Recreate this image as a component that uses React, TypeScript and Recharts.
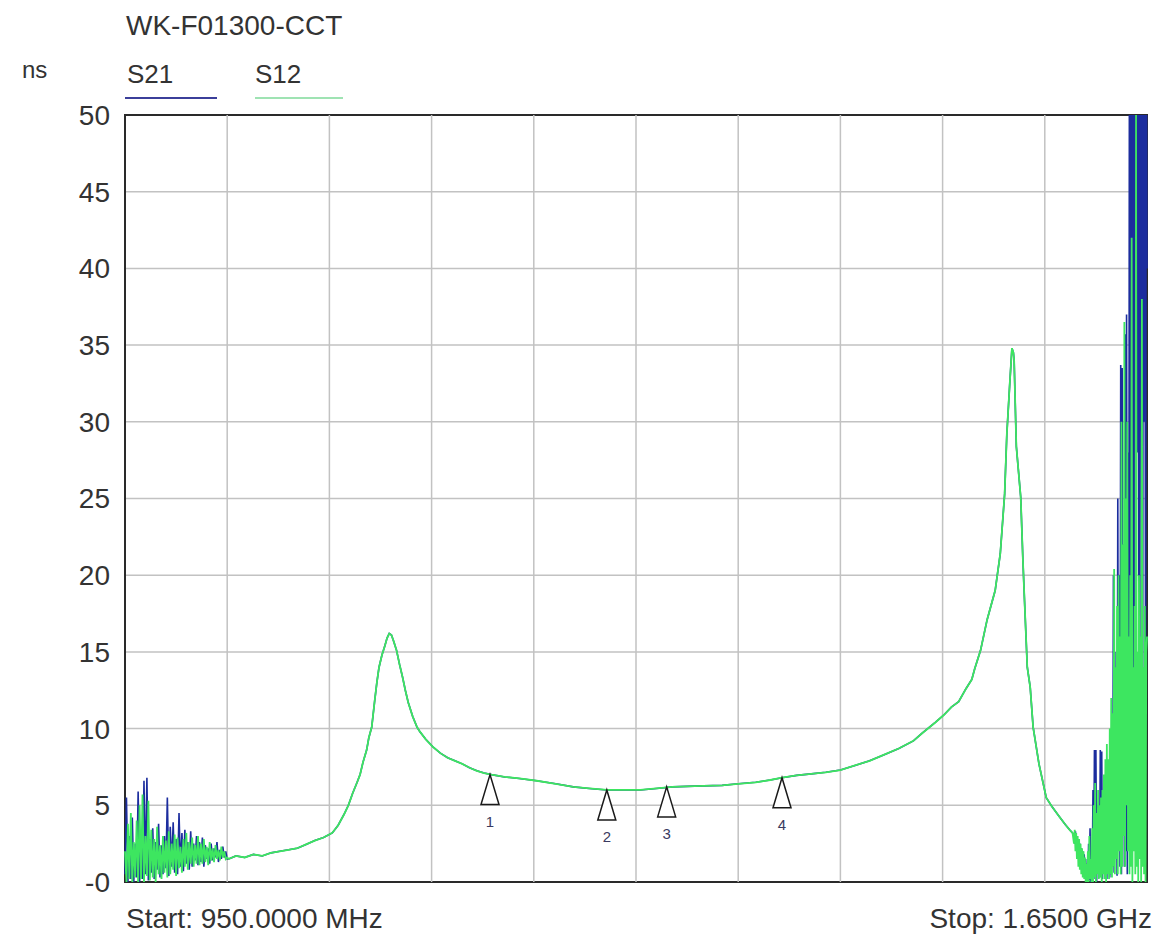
import {
  LineChart,
  Line,
  XAxis,
  YAxis,
  CartesianGrid,
  ReferenceArea,
  ReferenceDot,
  ReferenceLine,
} from "recharts";

// sweep: 950 MHz .. 1650 MHz, group delay in ns
const X_TICKS = [950, 1020, 1090, 1160, 1230, 1300, 1370, 1440, 1510, 1580, 1650];
const Y_TICKS = [0, 5, 10, 15, 20, 25, 30, 35, 40, 45, 50];

// noisy start of the sweep, 1 MHz per point from 950 MHz
const LEFT_START = 950;
const LEFT_STEP = 1;
const s21Left = [
  0.5, 5.5, 0.0, 3.0, 0.2, 4.2, 0.0, 2.5, 0.3, 5.9,
  0.0, 3.0, 0.2, 6.6, 0.5, 6.8, 0.1, 2.8, 0.6, 3.5,
  0.2, 2.6, 0.8, 3.8, 0.3, 2.4, 0.5, 3.0, 0.9, 5.5,
  0.4, 3.6, 1.0, 3.9, 0.6, 2.8, 0.5, 4.5, 1.0, 3.2,
  0.7, 3.4, 1.2, 2.6, 0.8, 3.3, 1.0, 2.5, 1.4, 3.0,
  1.1, 2.6, 1.3, 2.9, 1.0, 2.4, 1.5, 2.2, 1.2, 2.5,
  1.4, 2.2, 1.6, 2.6, 1.3, 2.1, 1.5, 2.3, 1.6, 2.0,
  1.5,
];
const s12Left = [
  2.0, 0.0, 3.8, 0.2, 4.5, 0.0, 2.6, 0.3, 4.0, 0.0,
  5.0, 0.2, 5.7, 0.0, 3.0, 0.4, 5.3, 0.1, 3.4, 0.3,
  2.8, 0.0, 3.6, 0.5, 2.4, 0.2, 3.0, 0.6, 2.7, 0.3,
  3.3, 0.5, 2.5, 0.8, 3.1, 0.4, 2.9, 0.9, 2.3, 0.6,
  2.8, 1.0, 3.2, 0.8, 2.6, 1.2, 2.9, 1.0, 2.4, 1.2,
  3.0, 1.1, 2.5, 1.2, 2.8, 1.3, 2.3, 1.1, 2.6, 1.4,
  2.2, 1.3, 2.4, 1.5, 2.1, 1.4, 2.3, 1.6, 2.0, 1.5,
  1.6,
];

// clean passband trace (both traces lie on top of each other here)
const midFreq = [
  1021, 1026, 1032, 1038, 1044, 1050, 1056, 1062, 1068, 1074, 1080, 1086, 1092,
  1096, 1100, 1103, 1106, 1109, 1111, 1113, 1115.5, 1117, 1119, 1121, 1122.5,
  1124, 1126, 1128, 1129.5, 1131, 1132.5, 1134, 1136, 1138, 1140, 1142, 1144,
  1147, 1150, 1152, 1156, 1161, 1166, 1171, 1176, 1181, 1186, 1191, 1196, 1201,
  1210, 1220, 1232, 1245, 1257, 1268, 1280, 1292, 1303, 1314, 1325, 1340, 1359,
  1370, 1382, 1392, 1400, 1410, 1420, 1430, 1440, 1450, 1460, 1470, 1480, 1490,
  1496, 1505, 1511, 1516, 1521, 1526, 1530, 1532, 1536, 1540.5, 1546, 1549.5,
  1552.5, 1554, 1556, 1557.5, 1558.5, 1559, 1560.5, 1563.5, 1565, 1566, 1568,
  1570, 1572, 1576, 1581, 1585, 1590, 1594, 1597, 1599,
];
const midNs = [
  1.5, 1.7, 1.6, 1.8, 1.7, 1.9, 2.0, 2.1, 2.2, 2.45, 2.7, 2.9, 3.2,
  3.7, 4.4, 5.0, 5.8, 6.5, 7.0, 7.8, 8.6, 9.4, 10.1, 11.8, 13.0,
  14.0, 14.8, 15.4, 15.9, 16.2, 16.1, 15.7, 15.1, 14.2, 13.4, 12.5, 11.7,
  10.8, 10.1, 9.8, 9.3, 8.8, 8.4, 8.1, 7.9, 7.7, 7.45, 7.25, 7.1, 7.0,
  6.85, 6.75, 6.6, 6.4, 6.2, 6.1, 6.0, 6.0, 6.0, 6.1, 6.2, 6.25, 6.3,
  6.4, 6.5, 6.65, 6.8, 6.95, 7.05, 7.15, 7.3, 7.6, 7.9, 8.3, 8.7, 9.2,
  9.7, 10.4, 10.9, 11.4, 11.75, 12.6, 13.2, 13.9, 15.1, 17.1, 19.0, 21.4,
  25.3, 29.2, 32.5, 34.8, 34.5, 34.0, 28.4, 25.1, 21.0, 18.6, 14.0,
  12.7, 10.1, 7.7, 5.5, 4.9, 4.25, 3.75, 3.4, 3.2,
];

// noisy stop band, 0.5 MHz per point from 1600 MHz (values above 50 run off the top)
const RIGHT_START = 1600;
const RIGHT_STEP = 0.5;
const s21Right = [
  3.0, 2.5, 3.3, 2.2, 3.0, 1.8, 2.8, 1.5, 2.5, 1.2, 2.2, 0.9, 2.0, 0.6, 1.8, 0.4, 1.5, 0.2, 1.2, 0.0, 2.5, 0.1, 3.5, 0.0, 1.5,
  0.3, 6.0, 0.5, 8.6, 0.2, 8.6, 0.0, 5.0, 0.8, 4.0, 0.3, 8.6, 0.6, 8.5, 0.2, 6.0, 1.0, 3.5, 0.4, 7.2, 0.2, 5.1, 0.8, 3.0, 0.3,
  9.5, 0.5, 6.0, 1.0, 20.0, 0.6, 15.0, 2.0, 12.0, 0.4, 25.0, 3.0, 20.0, 1.0, 33.7, 0.5, 33.5, 4.0, 22.0, 1.0, 35.7, 2.0, 37.0, 0.5, 28.0,
  8.0, 60, 2.0, 60, 20.0, 60, 3.0, 60, 5.0, 60, 10.0, 60, 28.0, 60, 4.0, 60, 60, 15.0, 60, 8.0, 60, 30.0, 60, 10.0, 60, 40.0,
];
const s12Right = [
  2.5, 3.4, 2.0, 3.2, 1.5, 3.0, 1.0, 2.8, 0.8, 2.5, 0.5, 2.2, 0.3, 2.0, 0.2, 1.6, 0.0, 1.2, 0.0, 2.0, 0.0, 3.0, 0.2, 1.5, 0.0,
  3.5, 0.0, 5.0, 0.3, 6.45, 0.0, 4.5, 0.5, 6.0, 0.2, 5.0, 0.3, 5.5, 0.0, 6.0, 0.5, 7.0, 0.2, 8.0, 0.0, 9.0, 0.5, 8.0, 0.2, 10.0,
  0.5, 12.0, 0.3, 11.0, 1.0, 20.4, 0.5, 14.0, 1.5, 18.0, 0.5, 20.0, 2.0, 16.0, 0.5, 30.0, 1.0, 22.0, 3.0, 36.5, 1.0, 25.0, 5.0, 30.0, 2.0,
  16.0, 0.5, 20.0, 1.0, 42.0, 0.0, 14.0, 2.0, 18.0, 0.5, 50.0, 1.0, 15.0, 0.0, 20.0, 1.5, 16.0, 0.0, 38.0, 1.0, 14.0, 0.5, 18.0, 0.0, 15.0, 16.0,
];

// markers 1..4
const markerFreq = [1200, 1280, 1321, 1400];
const markerNs = [7.0, 6.0, 6.2, 6.8];

const build = (left: number[], right: number[]) => [
  ...left.map((v, i) => ({ f: LEFT_START + i * LEFT_STEP, v })),
  ...midFreq.map((f, i) => ({ f, v: midNs[i] })),
  ...right.map((v, i) => ({ f: RIGHT_START + i * RIGHT_STEP, v })),
];

const s21Data = build(s21Left, s21Right);
const s12Data = build(s12Left, s12Right);

const FONT = '"Liberation Sans", Arial, sans-serif';
const TEXT = "#333333";
const GRID = "#c2c2c2";

function Marker({ cx, cy, n }: { cx?: number; cy?: number; n: number }) {
  if (cx == null || cy == null) return null;
  return (
    <g>
      <polygon
        points={`${cx},${cy} ${cx - 9},${cy + 30} ${cx + 9},${cy + 30}`}
        fill="#ffffff"
        stroke="#1a1a1a"
        strokeWidth={1.5}
      />
      <text
        x={cx}
        y={cy + 52}
        textAnchor="middle"
        fontSize={15}
        fontFamily={FONT}
        fill="#3a3a60"
      >
        {n}
      </text>
    </g>
  );
}

export default function App() {
  return (
    <div
      style={{
        position: "absolute",
        left: 0,
        top: 0,
        width: 1159,
        height: 936,
        background: "#ffffff",
      }}
    >
      <LineChart
        width={1159}
        height={936}
        margin={{ top: 115, right: 12, bottom: 54, left: 25 }}
      >
        <CartesianGrid stroke={GRID} strokeWidth={1.5} vertical={false} />
        <XAxis
          type="number"
          dataKey="f"
          domain={[950, 1650]}
          ticks={X_TICKS}
          height={0}
          tick={false}
          tickLine={false}
          axisLine={false}
        />
        <YAxis
          type="number"
          domain={[0, 50]}
          ticks={Y_TICKS}
          allowDataOverflow
          width={100}
          tickSize={0}
          tickMargin={15}
          axisLine={false}
          tickFormatter={(v: number) => (v === 0 ? "-0" : String(v))}
          tick={{ fill: TEXT, fontSize: 28, fontFamily: FONT }}
        />
        {X_TICKS.slice(1, -1).map((t) => (
          <ReferenceLine key={t} x={t} stroke={GRID} strokeWidth={1.5} />
        ))}
        <Line
          data={s21Data}
          dataKey="v"
          type="linear"
          stroke="#1c2d9e"
          strokeWidth={1.6}
          dot={false}
          isAnimationActive={false}
        />
        <Line
          data={s12Data}
          dataKey="v"
          type="linear"
          stroke="#3de660"
          strokeWidth={1.8}
          dot={false}
          isAnimationActive={false}
        />
        <ReferenceArea
          x1={950}
          x2={1650}
          y1={0}
          y2={50}
          fill="none"
          stroke="#2a2a2a"
          strokeWidth={2}
        />
        {markerFreq.map((f, i) => (
          <ReferenceDot
            key={f}
            x={f}
            y={markerNs[i]}
            shape={(p: any) => <Marker cx={p.cx} cy={p.cy} n={i + 1} />}
          />
        ))}
      </LineChart>
      <svg
        width={1159}
        height={936}
        style={{ position: "absolute", left: 0, top: 0, pointerEvents: "none" }}
      >
        <g fontFamily={FONT} fill={TEXT}>
          <text x={126} y={35} fontSize={28}>
            WK-F01300-CCT
          </text>
          <text x={22} y={78} fontSize={24}>
            ns
          </text>
          <text x={127} y={83} fontSize={26}>
            S21
          </text>
          <text x={255} y={83} fontSize={26}>
            S12
          </text>
          <text x={126} y={928} fontSize={28}>
            Start: 950.0000 MHz
          </text>
          <text x={1152} y={928} fontSize={28} textAnchor="end">
            Stop: 1.6500 GHz
          </text>
        </g>
        <line x1={125} y1={98} x2={217} y2={98} stroke="#3b3f9a" strokeWidth={2} />
        <line x1={255} y1={98} x2={343} y2={98} stroke="#9fe3b3" strokeWidth={2} />
      </svg>
    </div>
  );
}
